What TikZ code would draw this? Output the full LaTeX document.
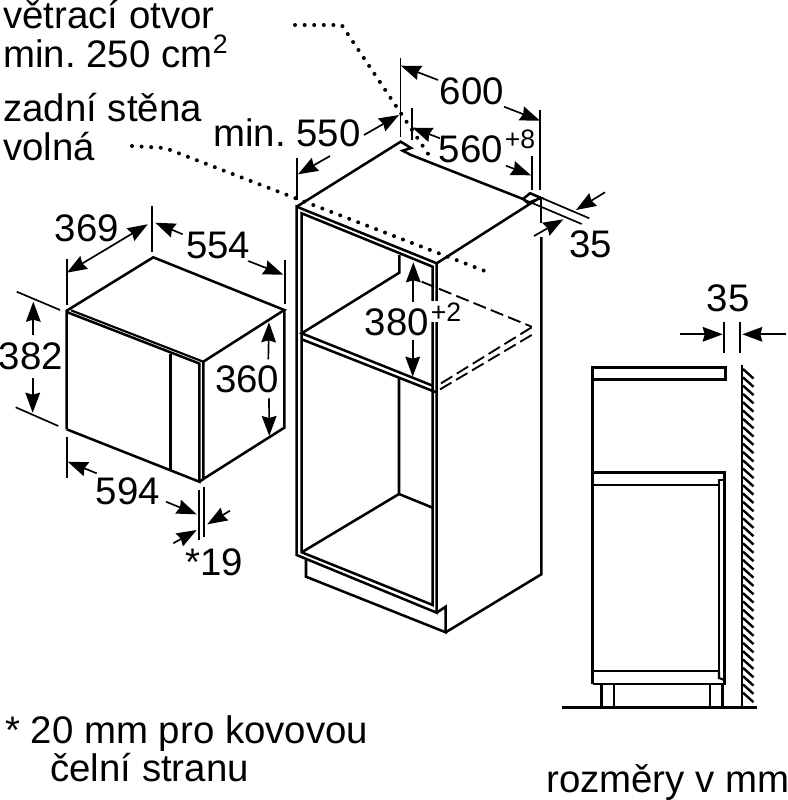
\documentclass[tikz,border=0pt]{standalone}
\usepackage{fontspec}
\setmainfont{Liberation Sans}
\usetikzlibrary{arrows.meta}
\frenchspacing
\newcommand\dimarr[3]{\coordinate (#1s) at (#2); \coordinate (#1t) at (#3); \draw[dimarrow] (#1s) -- (#1t);}
\tikzset{
  body/.style={line width=1.9pt,line join=miter,black},
  thinbody/.style={line width=1.6pt,black},
  hatchline/.style={line width=1.8pt,black},
  tick/.style={line width=1.25pt,black},
  dimarrow/.style={line width=1.25pt,black,-{Stealth[length=15pt,width=11pt,inset=1.5pt]}},
  dotline/.style={line width=3pt,line cap=round,dash pattern=on 0pt off 7.2pt,black},
  dashline/.style={line width=1.4pt,dash pattern=on 10pt off 4pt,black},
  lab/.style={font=\fontsize{28.8}{29}\selectfont,inner sep=0pt,black},
  sup/.style={font=\fontsize{20}{20}\selectfont,inner sep=0pt,black},
}
\begin{document}
\begin{tikzpicture}[x=0.75pt,y=-0.75pt]
\useasboundingbox (0,0) rectangle (788,800);
% dotted leaders
\draw[dotline] (295,25) -- (341.7,25) -- (429.3,155.7);
\draw[dotline] (132,146) -- (165,148) -- (486.7,271.7);
% dashed shelf
\draw[dashline] (421.7,281.7) -- (531.7,326.7);
\draw[dashline] (531.7,327.3) -- (440,384);
\draw[dashline] (531.7,335) -- (437.3,391);
% cabinet
\draw[body] (296.7,206.7) -- (400.7,141.7) -- (411,148) -- (402.7,150.7) -- (411,155) -- (523,199) -- (530,193.3) -- (541,198) -- (528,203) -- (523,199);
\draw[body] (536,200) -- (436.7,263.3) -- (296.7,206.7) -- (296.7,555) -- (436.7,612.7) -- (436.7,263.3);
\draw[body] (301.7,552.3) -- (301.7,213.3) -- (432.7,266.7) -- (432.7,605) -- cycle;
\draw[body] (399.3,255) -- (399.3,272.7) -- (301.7,333.3) -- (432.7,385.7);
\draw[body] (301.7,339.3) -- (436.7,392.5);
\draw[body] (399,378) -- (399,494) -- (301.7,552.3);
\draw[body] (399,494) -- (432.7,507.7);
\draw[body] (306,560) -- (306,576.7) -- (445.7,632.3) -- (445.7,606.7) -- (436.7,612.7);
\draw[body] (445.7,632.3) -- (541.3,574.3) -- (541.3,237);
\draw[tick] (541,199) -- (541,223);
% cabinet dims
\draw[tick] (400.5,58) -- (400.5,137);
\draw[tick] (540.3,110) -- (540.3,190);
\dimarr{a}{438,80}{400.9,65.7}
\dimarr{b}{504,106.7}{540,120.7}
\node[lab] (n600) at (471.7,91.7) {600};
\draw[tick] (411.7,107.7) -- (411.7,140);
\draw[tick] (531.7,156) -- (531.7,190);
\dimarr{c}{440,138.3}{412.3,127.7}
\dimarr{d}{506,165.7}{531,175.3}
\node[lab] (n560) at (471,149) {560};
\node[sup] (n8) at (520,139) {+8};
\dimarr{e}{364,135}{399,115}
\dimarr{f}{330,156}{298,174.3}
\draw[tick] (296.7,158) -- (296.7,200);
\node[lab,anchor=base west] (n550) at (213,146.5) {min. 550};
\draw[tick] (530,193) -- (589.3,218.3);
\draw[tick] (525,200) -- (581.7,224);
\dimarr{g}{605,192.3}{576,210}
\dimarr{h}{534,236}{563.3,219.3}
\node[lab] (n35a) at (590.7,244) {35};
\dimarr{i}{413.3,301.7}{413.3,262.3}
\dimarr{j}{412.7,340}{412.7,376.7}
\node[lab] (n380) at (396.7,322.3) {380};
\node[sup,fill=white,inner sep=1pt] (n2) at (446,311.7) {+2};
% microwave
\draw[body] (66.7,429.3) -- (66.7,310.7) -- (153.3,257.3) -- (284.3,310) -- (203.3,361.7) -- (203.3,479) -- (284.3,427.7) -- (284.3,310);
\draw[body] (66.7,429.3) -- (199.3,481.7) -- (199.3,363.5) -- (66.7,312);
\draw[thinbody] (71,310.3) -- (203.3,361.7);
\draw[body] (170.7,354) -- (170.7,470);
\draw[body] (199.3,481.7) -- (203.3,479);
% microwave dims
\draw[tick] (66.7,259.3) -- (66.7,305);
\draw[tick] (152,206) -- (152,251.7);
\draw[dimarrow,{Stealth[length=15pt,width=11pt,inset=1.5pt]}-{Stealth[length=15pt,width=11pt,inset=1.5pt]}] (66.9,272.7) -- (147.7,224.3);
\node[lab] (n369) at (86.7,228.3) {369};
\draw[tick] (285.3,260) -- (285.3,304);
\dimarr{k}{182.7,234.3}{155.3,222.7}
\dimarr{l}{248.3,261}{283.3,274.7}
\node[lab] (n554) at (218.3,245.7) {554};
\draw[tick] (16.7,291.7) -- (60,310);
\draw[tick] (15.7,407.3) -- (58.3,426);
\dimarr{m}{33.3,335}{33.3,301.7}
\dimarr{o}{32.7,378}{32.7,412.7}
\node[lab] (n382) at (31,356.7) {382};
\dimarr{p}{268.3,359.3}{269,322.3}
\dimarr{q}{269,398.3}{269.3,436}
\node[lab] (n360) at (247.3,379) {360};
\draw[tick] (66.7,437.3) -- (66.7,478.3);
\dimarr{r}{96.7,473.3}{67.7,461.7}
\dimarr{s}{166,501.7}{196.7,514.3}
\node[lab] (n594) at (127.7,491) {594};
\draw[tick] (198.7,490) -- (198.7,540);
\draw[tick] (204.3,486.7) -- (204.3,536.7);
\dimarr{t}{230,510.7}{207.3,524.3}
\dimarr{u}{173.3,543.3}{196.7,530}
\node[lab] (n19) at (214.5,562) {*19};
% side view
\draw[body] (592.7,684) -- (592.7,367.3) -- (725.3,367.3) -- (725.3,379.3) -- (592.7,379.3);
\draw[body] (592.7,472.3) -- (724.3,472.3) -- (724.3,684) -- (592.7,684);
\draw[body] (592.7,485) -- (719,485) -- (719,671) -- (592.7,671);
\draw[thinbody] (719,485) -- (719,480) -- (724.3,480);
\draw[thinbody] (719,671) -- (719,678) -- (724.3,680);
\draw[body] (601.7,684) -- (601.7,706.7);
\draw[body] (614,684) -- (614,706.7);
\draw[body] (710,684) -- (710,706.7);
\draw[body] (722.7,684) -- (722.7,706.7);
\draw[body] (562,707.3) -- (756.7,707.3);
\draw[body] (742,365) -- (742,707.3);
\foreach \yy in {369,377.3,...,699} \draw[hatchline] (743,\yy) -- (753.5,\yy+9.5);
\draw[tick] (724.3,322.3) -- (724.3,352.7);
\draw[tick] (740.3,322.3) -- (740.3,352.7);
\dimarr{v}{680,334.3}{722.7,334.3}
\dimarr{w}{786,334.3}{742.3,334.3}
\node[lab] (n35b) at (728.3,298.3) {35};
% labels
\node[lab,anchor=base west] (t1) at (3,28.5) {větrací otvor};
\node[lab,anchor=base west] (t2) at (3,67) {min. 250 cm};
\node[sup,anchor=base west] (t2s) at (t2.base east) [yshift=10pt] {2};
\node[lab,anchor=base west] (t3) at (3,121) {zadní stěna};
\node[lab,anchor=base west] (t4) at (3,160) {volná};
\node[lab,anchor=base west] (t5) at (5,743) {* 20 mm pro kovovou};
\node[lab,anchor=base west] (t6) at (50,781) {čelní stranu};
\node[lab,anchor=base west] (t7) at (546,792) {rozměry v mm};
\end{tikzpicture}
\end{document}
